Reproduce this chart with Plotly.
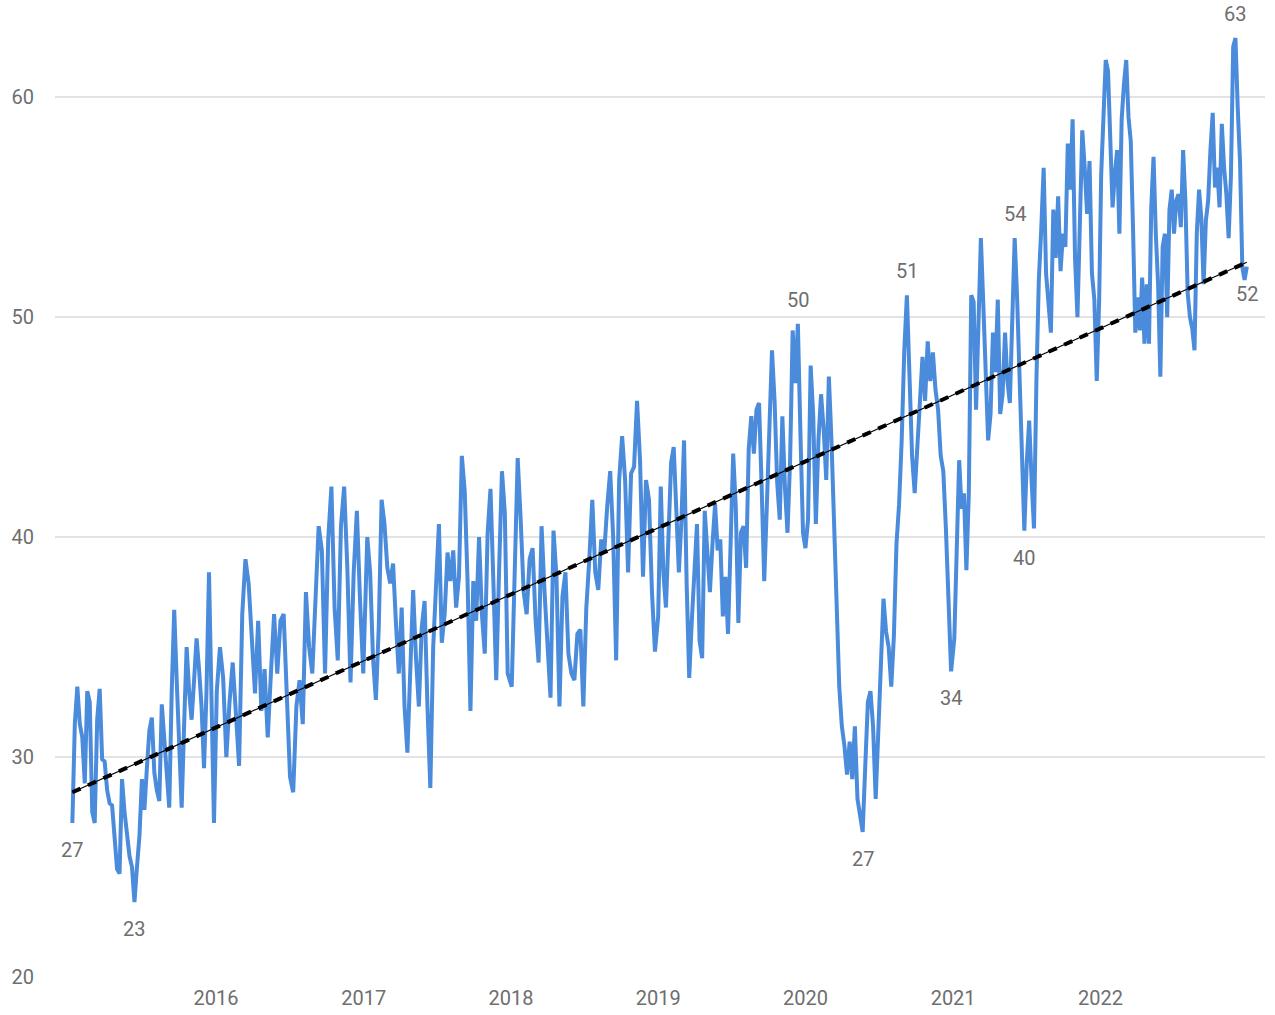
import plotly.graph_objects as go
import pandas as pd

# Weekly-ish index readings, one list per calendar year
v2015 = [27.0, 31.5, 33.2, 31.5, 30.9, 28.8, 33.0, 32.5, 27.5, 27.0, 31.7, 33.1, 29.9, 29.8, 28.5, 27.9, 27.8, 26.5,
         24.9, 24.7, 29.0, 27.5, 26.4, 25.5, 25.0, 23.4, 25.0, 26.4, 29.0, 27.6, 29.5, 31.2, 31.8, 29.3, 28.5, 28.0,
         32.4, 30.9, 29.5, 27.7, 33.0, 36.7, 33.5, 30.0, 27.7, 31.5, 35.0, 33.0, 31.7, 33.5, 35.4, 34.0, 32.3, 29.5,
         33.0, 38.4, 33.0, 27.0]
v2016 = [33.0, 35.0, 33.6, 30.0, 32.5, 34.3, 32.0, 29.6, 36.5, 39.0, 37.9, 35.5, 32.9, 36.2, 32.1, 34.0, 30.9, 33.8,
         36.5, 33.8, 36.2, 36.5, 32.3, 29.1, 28.4, 32.3, 33.5, 31.5, 37.5, 35.0, 33.8, 37.1, 40.5, 39.4, 33.8, 39.9,
         42.3, 36.8, 34.4, 40.5, 42.3, 38.6, 33.4, 38.4, 41.2, 37.1, 33.8]
v2017 = [40.0, 38.4, 34.5, 32.6, 35.9, 41.7, 40.6, 38.6, 37.9, 38.8, 36.1, 33.8, 36.8, 32.3, 30.2, 33.5, 37.6, 34.5,
         32.3, 35.9, 37.1, 32.3, 28.6, 35.0, 38.0, 40.6, 35.2, 36.5, 39.3, 38.0, 39.4, 36.8, 38.2, 43.7, 42.1, 38.0,
         32.1, 38.0, 36.2, 40.0, 36.5, 34.7, 40.2, 42.2, 38.0, 33.5, 38.5, 43.0, 41.1, 33.8]
v2018 = [33.2, 39.0, 43.6, 40.8, 37.5, 36.5, 39.0, 39.5, 36.2, 34.3, 40.5, 37.5, 35.3, 32.7, 40.3, 38.2, 32.3, 37.3,
         38.4, 34.7, 33.8, 33.5, 35.6, 35.8, 32.3, 36.8, 39.0, 41.7, 38.4, 37.6, 39.9, 39.3, 41.4, 43.0, 40.0, 34.4,
         42.6, 44.6, 42.6, 38.4, 42.9, 43.2, 46.2, 43.5, 38.2, 42.6, 41.7, 37.5, 34.8]
v2019 = [36.4, 42.3, 38.4, 36.8, 40.2, 43.4, 44.1, 41.7, 38.4, 40.8, 44.4, 37.9, 33.6, 36.2, 38.5, 40.6, 35.3, 34.5,
         41.2, 39.3, 37.5, 39.7, 41.5, 39.4, 39.9, 36.4, 38.2, 35.6, 39.3, 43.8, 41.4, 36.1, 40.2, 40.5, 38.6, 44.0,
         45.5, 43.8, 45.8, 46.1, 42.3, 38.0, 41.4, 44.7, 48.5, 46.2, 42.5, 40.8, 45.5, 42.3, 40.2, 43.5, 49.4, 47.0,
         49.7, 44.7, 40.2]
v2020 = [39.5, 40.8, 47.8, 45.5, 40.6, 44.4, 46.5, 44.9, 42.6, 47.3, 44.4, 40.4, 35.9, 33.2, 31.4, 30.5, 29.2, 30.7,
         29.0, 31.4, 28.1, 27.4, 26.6, 29.6, 32.5, 33.0, 31.4, 28.1, 31.4, 34.6, 37.2, 35.7, 35.0, 33.2, 35.5, 39.7,
         41.5, 44.4, 48.5, 51.0, 47.6, 43.7, 42.0, 44.0, 46.2, 48.2, 46.2, 48.9, 47.1, 48.4, 46.7, 45.8, 43.7, 43.0,
         40.4, 36.5, 33.9]
v2021 = [35.4, 39.9, 43.5, 41.3, 42.0, 38.5, 42.0, 51.0, 50.7, 45.8, 49.9, 53.6, 50.6, 46.8, 44.4, 45.6, 49.3, 47.5,
         50.8, 45.6, 46.5, 49.3, 47.1, 46.1, 50.6, 53.6, 50.9, 47.1, 43.4, 40.3, 43.4, 45.3, 42.6, 40.4, 47.1, 51.7,
         54.0, 56.8, 52.0, 50.5, 49.3, 54.9, 52.7, 55.5, 52.1, 53.8, 53.2, 57.9, 55.8, 59.0, 52.7, 50.0, 53.8, 58.5,
         56.8, 54.7, 57.1, 52.0, 50.8, 47.1, 50.8]
v2022 = [56.5, 59.1, 61.7, 61.2, 58.0, 55.0, 56.5, 57.6, 53.8, 59.0, 60.6, 61.7, 59.1, 58.0, 54.0, 49.3, 50.9, 49.4,
         51.8, 48.8, 51.5, 48.8, 55.0, 57.3, 53.8, 51.5, 47.3, 53.2, 53.8, 50.0, 54.9, 55.8, 53.8, 55.3, 55.6, 54.1,
         57.6, 55.3, 51.1, 50.0, 49.5, 48.5, 53.8, 55.8, 54.5, 51.5, 54.4, 55.3, 57.6, 59.3, 55.9, 56.8, 55.0, 58.8,
         56.8, 55.6, 53.6, 56.4, 62.3, 62.7, 59.5, 57.1, 52.3, 51.7, 52.3]

year_series = [v2015, v2016, v2017, v2018, v2019, v2020, v2021, v2022]
year_first = ["2015-01-10", "2016-01-03", "2017-01-10", "2018-01-03", "2019-01-01", "2020-01-01", "2021-01-04", "2022-01-03"]
year_last = ["2015-12-27", "2016-12-31", "2017-12-24", "2018-12-24", "2019-12-26", "2020-12-27", "2021-12-29", "2022-12-30"]

trend_dates = ["2015-01-10", "2022-12-30"]
trend_values = [28.4, 52.5]

# labelled extremes: (window start, window end, kind)
label_windows = [
    ("2015-01-01", "2015-01-15", "min"),
    ("2015-04-01", "2015-08-01", "min"),
    ("2019-10-01", "2020-01-01", "max"),
    ("2020-03-01", "2020-08-01", "min"),
    ("2020-08-01", "2020-11-01", "max"),
    ("2020-11-15", "2021-01-15", "min"),
    ("2021-05-01", "2021-07-01", "max"),
    ("2021-06-15", "2021-08-15", "min"),
    ("2022-10-01", "2022-12-25", "max"),
    ("2022-12-26", "2023-01-05", "last"),
]

y_ticks = [20, 30, 40, 50, 60]
x_ticks = ["2016-01-01", "2017-01-01", "2018-01-01", "2019-01-01", "2020-01-01", "2021-01-01", "2022-01-01"]
x_tick_text = ["2016", "2017", "2018", "2019", "2020", "2021", "2022"]

dates = []
values = []
for vals, a, b in zip(year_series, year_first, year_last):
    dates.extend(pd.date_range(a, b, periods=len(vals)))
    values.extend(vals)
s = pd.Series(values, index=pd.DatetimeIndex(dates))

GRAY = "#6e6e6e"
FONT = "Roboto"

fig = go.Figure()
fig.add_trace(go.Scatter(x=s.index, y=s.values, mode="lines",
                         line=dict(color="#4a8bdb", width=4), hoverinfo="x+y"))
fig.add_trace(go.Scatter(x=pd.to_datetime(trend_dates), y=trend_values, mode="lines",
                         line=dict(color="black", width=1.2), hoverinfo="skip"))
fig.add_trace(go.Scatter(x=pd.to_datetime(trend_dates), y=trend_values, mode="lines",
                         line=dict(color="black", width=4, dash="9px,8px"), hoverinfo="skip"))

for lo, hi, kind in label_windows:
    w = s[(s.index >= lo) & (s.index <= hi)]
    if kind == "max":
        d = w.idxmax()
    elif kind == "min":
        d = w.idxmin()
    else:
        d = w.index[-1]
    v = s[d]
    above = kind == "max"
    fig.add_annotation(x=d, y=v, text=str(int(round(v))), showarrow=False,
                       yanchor="bottom" if above else "top",
                       yshift=10 if above else -13,
                       font=dict(family=FONT, size=20, color=GRAY))

fig.update_layout(
    width=1275, height=1015,
    margin=dict(l=55, r=10, t=5, b=38),
    paper_bgcolor="white", plot_bgcolor="white",
    showlegend=False,
    font=dict(family=FONT, size=20, color=GRAY),
)
fig.update_xaxes(range=["2014-11-28", "2023-02-13"], tickvals=pd.to_datetime(x_ticks), ticktext=x_tick_text,
                 showgrid=False, zeroline=False, showline=False, ticks="", ticklabelstandoff=7,
                 automargin=False, tickfont=dict(family=FONT, size=20, color=GRAY))
fig.update_yaxes(range=[20, 64.2], tickvals=y_ticks, showgrid=True, gridcolor="#e3e3e3", gridwidth=1.5,
                 zeroline=False, showline=False, ticks="", ticklabelstandoff=20,
                 automargin=False, tickfont=dict(family=FONT, size=20, color=GRAY))

fig.write_html("out.html", config={"displayModeBar": False},
               post_script="document.body.style.margin='0px';")
